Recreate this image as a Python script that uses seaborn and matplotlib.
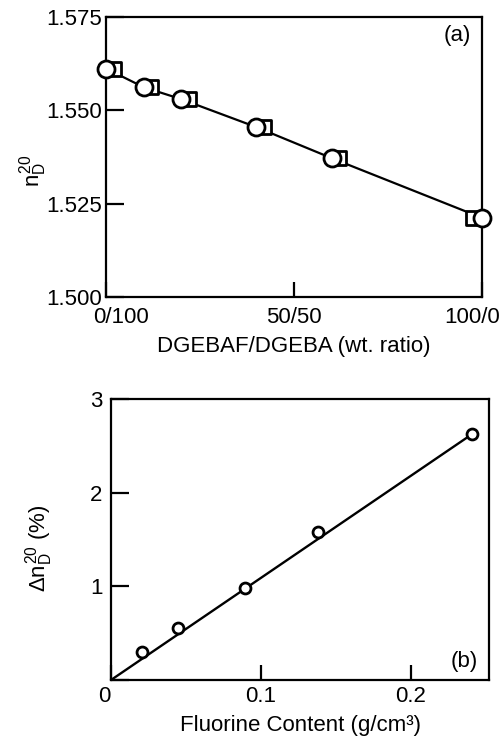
import matplotlib
matplotlib.use("Agg")
import matplotlib.pyplot as plt
import matplotlib.transforms as mtransforms
import seaborn as sns
import pandas as pd

# ---- data panel (a) ----
ratio_circle = [0, 10, 20, 40, 60, 100]          # wt% DGEBAF
n_circle = [1.5612, 1.5562, 1.5530, 1.5455, 1.5372, 1.5212]
ratio_square = [2, 12, 22, 42, 62, 97.5]
n_square = [1.5612, 1.5562, 1.5530, 1.5455, 1.5372, 1.5212]
xticks_a = [0, 50, 100]
xticklabels_a = ["0/100", "50/50", "100/0"]
yticks_a = [1.500, 1.525, 1.550, 1.575]

# ---- data panel (b) ----
fluorine = [0.0207, 0.0447, 0.0893, 0.138, 0.2407]
delta_n = [0.30, 0.557, 0.986, 1.575, 2.625]
fit_x = [0.0, 0.2407]
fit_y = [0.0, 2.625]
xticks_b = [0, 0.1, 0.2]
xticklabels_b = ["0", "0.1", "0.2"]
yticks_b = [0, 1, 2, 3]
yticklabels_b = ["", "1", "2", "3"]

sns.set_theme(style="white")
plt.rcParams['font.family'] = ['Liberation Sans', 'DejaVu Sans']
plt.rcParams['mathtext.fontset'] = 'custom'
plt.rcParams['mathtext.rm'] = 'Liberation Sans'
plt.rcParams['mathtext.it'] = 'Liberation Sans'
for k in ['text.color', 'axes.labelcolor', 'xtick.color', 'ytick.color', 'axes.edgecolor']:
    plt.rcParams[k] = 'black'
plt.rcParams['xtick.bottom'] = True
plt.rcParams['ytick.left'] = True

fig = plt.figure(figsize=(5, 7.38), dpi=100)
W, H = 500, 738

def ax_at(l, t, r, b):
    return fig.add_axes([l / W, 1 - b / H, (r - l) / W, (b - t) / H])

def style(ax, xpad, ypad):
    for s in ax.spines.values():
        s.set_linewidth(1.6)
        s.set_color("black")
    ax.tick_params(direction="in", width=1.6, colors="black",
                   labelsize=16, top=False, right=False)
    ax.tick_params(axis="y", length=13, pad=ypad)
    ax.tick_params(axis="x", length=11, pad=xpad)

def shift_label(lbl, dx_px):
    lbl.set_transform(lbl.get_transform() +
                      mtransforms.ScaledTranslation(dx_px / 100, 0, fig.dpi_scale_trans))

# ---- panel (a) ----
axa = ax_at(106, 17, 482, 297)
dfa_c = pd.DataFrame({"x": ratio_circle, "y": n_circle})
dfa_s = pd.DataFrame({"x": ratio_square, "y": n_square})
sns.lineplot(data=dfa_c, x="x", y="y", ax=axa, color="black", lw=1.6, sort=False)
sns.scatterplot(data=dfa_s, x="x", y="y", ax=axa, marker="s", s=105,
                facecolor="white", edgecolor="black", linewidth=2.0, zorder=3, clip_on=False)
sns.scatterplot(data=dfa_c, x="x", y="y", ax=axa, marker="o", s=150,
                facecolor="white", edgecolor="black", linewidth=2.0, zorder=4, clip_on=False)
axa.set_xlim(0, 100)
axa.set_ylim(1.500, 1.575)
axa.set_xticks(xticks_a)
axa.set_xticklabels(xticklabels_a)
axa.set_yticks(yticks_a)
axa.set_yticklabels([f"{v:.3f}" for v in yticks_a])
style(axa, xpad=7, ypad=3)
xl = axa.get_xticklabels()
shift_label(xl[0], 15)
shift_label(xl[2], -10)
axa.set_xlabel("DGEBAF/DGEBA (wt. ratio)", fontsize=16, labelpad=6)
axa.set_ylabel(r"$n_D^{20}$", fontsize=16)
axa.yaxis.set_label_coords(-0.152, 0.45)
axa.text(0.97, 0.97, "(a)", transform=axa.transAxes, ha="right", va="top", fontsize=16)

# ---- panel (b) ----
axb = ax_at(111, 399, 489, 680)
dfb = pd.DataFrame({"x": fluorine, "y": delta_n})
dfit = pd.DataFrame({"x": fit_x, "y": fit_y})
sns.lineplot(data=dfit, x="x", y="y", ax=axb, color="black", lw=1.7)
sns.scatterplot(data=dfb, x="x", y="y", ax=axb, marker="o", s=62,
                facecolor="white", edgecolor="black", linewidth=2.0, zorder=4, clip_on=False)
axb.set_xlim(0, 0.252)
axb.set_ylim(0, 3)
axb.set_xticks(xticks_b)
axb.set_xticklabels(xticklabels_b)
axb.set_yticks(yticks_b)
axb.set_yticklabels(yticklabels_b)
style(axb, xpad=4, ypad=6)
shift_label(axb.get_xticklabels()[0], -7)
axb.set_xlabel("Fluorine Content (g/cm³)", fontsize=16, labelpad=6)
axb.set_ylabel(r"$\Delta n_D^{20}$ (%)", fontsize=16)
axb.yaxis.set_label_coords(-0.147, 0.47)
axb.text(0.97, 0.03, "(b)", transform=axb.transAxes, ha="right", va="bottom", fontsize=16)

fig.savefig("out.png", dpi=100)
